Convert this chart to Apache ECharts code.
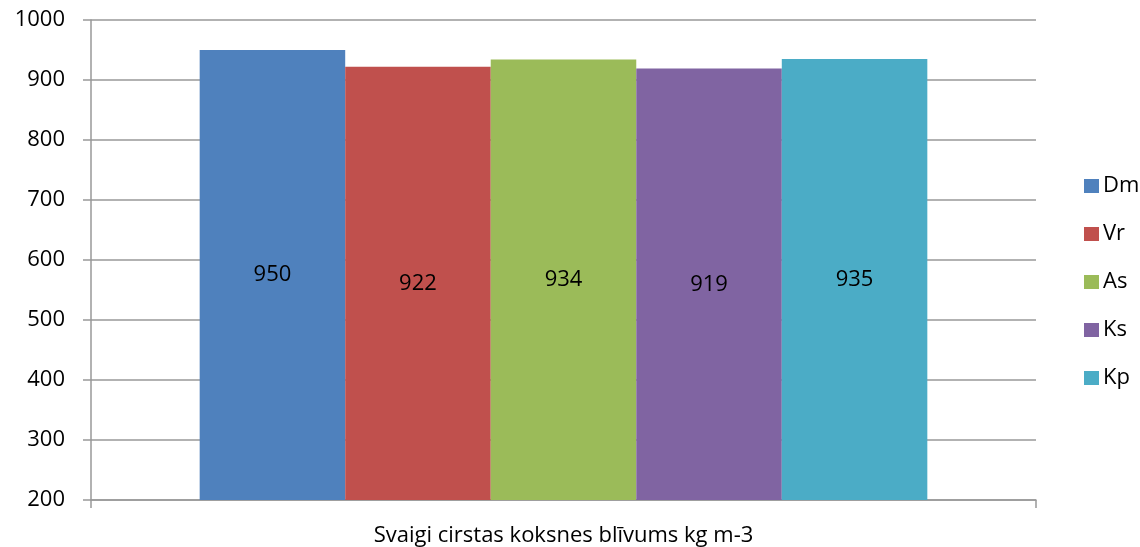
<!DOCTYPE html>
<html>
<head>
<meta charset="utf-8">
<script src="https://cdn.jsdelivr.net/npm/echarts@6/dist/echarts.min.js"></script>
<style>
  html, body { margin: 0; padding: 0; background: #fff; }
  #chart { width: 1140px; height: 547px; }
</style>
</head>
<body>
<div id="chart"></div>
<script>
// data
const categories = ['Svaigi cirstas koksnes blīvums kg m-3'];
const seriesNames = ['Dm', 'Vr', 'As', 'Ks', 'Kp'];
const seriesValues = [950, 922, 934, 919, 935];
const colors = ['#4F81BD', '#C0504D', '#9BBB59', '#8064A2', '#4BACC6'];

const font = "'Open Sans', 'DejaVu Sans', sans-serif";

const chart = echarts.init(document.getElementById('chart'));

const option = {
  animation: false,
  textStyle: { fontFamily: font },
  grid: { left: 91, right: 104, top: 20, bottom: 47 },
  legend: {
    orient: 'vertical',
    left: 1079,
    top: 170,
    itemWidth: 15,
    itemHeight: 14,
    itemGap: 26,
    icon: 'rect',
    textStyle: { fontSize: 22, color: '#000', fontFamily: font, padding: [0, 0, 0, -1] },
    data: seriesNames
  },
  xAxis: {
    type: 'category',
    data: categories,
    axisLine: { lineStyle: { color: '#999', width: 1.5 } },
    axisTick: { show: true, length: 8, lineStyle: { color: '#999', width: 1.5 } },
    axisLabel: { fontSize: 22, color: '#000', margin: 25 }
  },
  yAxis: {
    type: 'value',
    min: 200,
    max: 1000,
    interval: 100,
    axisLine: { show: true, lineStyle: { color: '#999', width: 1.5 } },
    axisTick: { show: true, length: 8, lineStyle: { color: '#999', width: 1.5 } },
    axisLabel: { fontSize: 22, color: '#000', margin: 26, formatter: v => String(v) },
    splitLine: { lineStyle: { color: '#999', width: 1.5 } }
  },
  series: seriesNames.map((name, i) => ({
    name: name,
    type: 'bar',
    barGap: 0,
    barCategoryGap: '23%',
    itemStyle: { color: colors[i] },
    label: {
      show: true,
      position: 'inside',
      fontSize: 22,
      color: '#000',
      fontFamily: font
    },
    data: [seriesValues[i]]
  }))
};

chart.setOption(option);
</script>
</body>
</html>
